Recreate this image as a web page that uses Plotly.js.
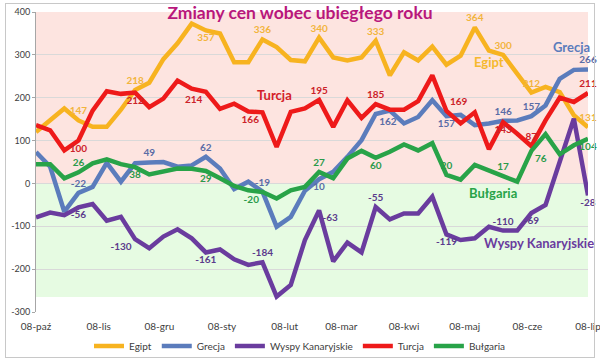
<!DOCTYPE html>
<html>
<head>
<meta charset="utf-8">
<script src="https://cdn.plot.ly/plotly-3.0.1.min.js"></script>
<style>
html,body{margin:0;padding:0;background:#fff;}
#wrap{position:relative;width:600px;height:362px;}
#chart{width:600px;height:362px;}
#frame{position:absolute;left:5px;top:3px;width:588px;height:353px;border:1px solid #c8c8c8;pointer-events:none;}
</style>
</head>
<body>
<div id="wrap"><div id="chart"></div><div id="frame"></div></div>
<script>
const dates = ["2008-10-08","2008-10-15","2008-10-22","2008-10-29","2008-11-05","2008-11-12","2008-11-19","2008-11-26",
"2008-12-03","2008-12-10","2008-12-17","2008-12-24","2008-12-31","2009-01-07","2009-01-14","2009-01-21","2009-01-28",
"2009-02-04","2009-02-11","2009-02-18","2009-02-25","2009-03-04","2009-03-11","2009-03-18","2009-03-25",
"2009-04-01","2009-04-08","2009-04-15","2009-04-22","2009-04-29","2009-05-06","2009-05-13","2009-05-20","2009-05-27",
"2009-06-03","2009-06-10","2009-06-17","2009-06-24","2009-07-01","2009-07-08"];

const egipt = [120,148,175,147,132,132,172,218,235,290,327,373,357,350,283,283,336,318,288,285,340,294,287,294,333,252,306,287,319,277,298,364,310,300,256,212,225,213,159,131];
const grecja = [73,39,-66,-22,-8,48,4,47,49,50,39,42,62,35,-13,4,-19,-101,-78,-17,10,27,62,101,162,170,140,155,194,157,160,136,140,146,147,157,182,244,265,266];
const wyspy = [-79,-68,-74,-56,-48,-87,-78,-130,-151,-124,-107,-128,-161,-154,-177,-190,-184,-264,-237,-132,-63,-182,-138,-161,-55,-84,-70,-70,-31,-119,-132,-128,-101,-110,-110,-69,-50,54,151,-28];
const turcja = [136,124,77,100,170,215,209,212,178,198,240,221,214,174,186,168,166,85,167,175,195,132,194,153,185,172,172,192,252,169,140,166,80,143,116,87,147,200,190,211];
const bulgaria = [45,45,12,26,47,56,45,38,21,27,35,34,29,12,-6,-16,-20,-35,-16,-8,27,12,58,76,60,74,91,77,94,20,9,43,31,17,4,76,115,68,89,104];

const tickDates = ["2008-10-08","2008-11-08","2008-12-08","2009-01-08","2009-02-08","2009-03-08","2009-04-08","2009-05-08","2009-06-08","2009-07-08"];
const tickLabels = ["08-paź","08-lis","08-gru","08-sty","08-lut","08-mar","08-kwi","08-maj","08-cze","08-lip"];
const yTicks = [-300,-200,-100,0,100,200,300,400];
const yTickLabels = ["-300","-200","-100","0","100","200","300","400"];

// data labels: index -> position
const egiptLab = {3:"top center",7:"top center",12:"bottom center",16:"top center",20:"top center",24:"top center",31:"top center",33:"top center",35:"top center",39:"top center"};
const turcjaLab = {3:"bottom center",7:"bottom center",12:"bottom left",16:"bottom left",20:"top center",24:"top center",29:"top right",33:"bottom center",35:"top center",39:"top center"};
const grecjaLab = {3:"top center",8:"top center",12:"top center",16:"top center",20:"bottom center",24:"bottom right",29:"bottom center",33:"top center",35:"top center",39:"top center"};
const bulgariaLab = {3:"top center",7:"bottom center",12:"bottom center",16:"bottom left",20:"top center",24:"bottom center",29:"top center",33:"top center",35:"bottom right",39:"bottom center"};
const wyspyLab = {3:"bottom center",7:"bottom left",12:"bottom center",16:"top center",20:"bottom right",24:"top center",29:"bottom center",33:"top center",35:"bottom center",39:"bottom center"};

function labels(vals, lab){
  return {
    text: vals.map((v,i)=> lab[i]!==undefined ? String(v) : ""),
    pos: vals.map((v,i)=> lab[i]!==undefined ? lab[i] : "top center")
  };
}

const FONT = "Lato, 'Open Sans', sans-serif";
function series(name, vals, lab, color, labColor){
  const l = labels(vals, lab);
  return {
    type:"scatter", mode:"lines+markers+text", name:name, x:dates, y:vals,
    line:{color:color, width:4.5},
    marker:{size:4, opacity:0, color:color},
    text:l.text, textposition:l.pos,
    textfont:{family:FONT, size:10, color:labColor, weight:"bold"},
    cliponaxis:false, hoverinfo:"skip"
  };
}

const traces = [
  series("Egipt", egipt, egiptLab, "#f7b320", "#f2b43c"),
  series("Grecja", grecja, grecjaLab, "#5b7cbc", "#5a6ca6"),
  series("Wyspy Kanaryjskie", wyspy, wyspyLab, "#6a3c9e", "#5b3a8c"),
  series("Turcja", turcja, turcjaLab, "#ee1a1a", "#cc2229"),
  series("Bułgaria", bulgaria, bulgariaLab, "#28a348", "#2a9a4a")
];

const nameAnn = [
  {x:"2009-05-20", y:284, text:"Egipt", color:"#f5b92e"},
  {x:"2009-06-30", y:318, text:"Grecja", color:"#5b7cbc"},
  {x:"2009-02-03", y:207, text:"Turcja", color:"#d42028"},
  {x:"2009-05-22", y:-23, text:"Bułgaria", color:"#28a348"},
  {x:"2009-06-14", y:-140, text:"Wyspy Kanaryjskie", color:"#6a3c9e"}
].map(a=>({x:a.x, y:a.y, xref:"x", yref:"y", text:a.text, showarrow:false,
  font:{family:FONT, size:13, color:a.color, weight:"bold"}}));

const layout = {
  width:600, height:362,
  margin:{l:36, r:12, t:12, b:50},
  paper_bgcolor:"rgba(0,0,0,0)", plot_bgcolor:"#ffffff",
  showlegend:true,
  title:{text:"Zmiany cen wobec ubiegłego roku", font:{family:FONT, size:17.5, color:"#b8177c", weight:"bold"},
    xref:"container", x:0.5, xanchor:"center", yref:"container", y:1-13/362, yanchor:"middle"},
  xaxis:{type:"date", range:["2008-10-08","2009-07-08"], tickvals:tickDates, ticktext:tickLabels,
    showgrid:false, zeroline:false, showline:false, ticks:"", ticklabelstandoff:7, ticklabeloverflow:"allow",
    tickfont:{family:FONT, size:10, color:"#404040"}},
  yaxis:{range:[-300,400], tickvals:yTicks, ticktext:yTickLabels, showgrid:true, gridcolor:"#d9d9d9", gridwidth:1,
    zeroline:false, showline:true, linecolor:"#a6a6a6", ticks:"outside", ticklen:3, tickcolor:"#a6a6a6",
    tickfont:{family:FONT, size:9, color:"#404040"}},
  shapes:[
    {type:"rect", xref:"paper", yref:"y", x0:0, x1:1, y0:0, y1:400, fillcolor:"#fde4e0", line:{width:0}, layer:"below"},
    {type:"rect", xref:"paper", yref:"y", x0:0, x1:1, y0:-265, y1:0, fillcolor:"#e6fbe2", line:{width:0}, layer:"below"}
  ],
  annotations:nameAnn,
  legend:{orientation:"h", xref:"container", x:0.5, xanchor:"center", yref:"container", y:1-346/362, yanchor:"middle",
    font:{family:FONT, size:10, color:"#404040"}, itemwidth:30, bgcolor:"rgba(0,0,0,0)"}
};

Plotly.newPlot("chart", traces, layout, {displayModeBar:false, staticPlot:true});
</script>
</body>
</html>
